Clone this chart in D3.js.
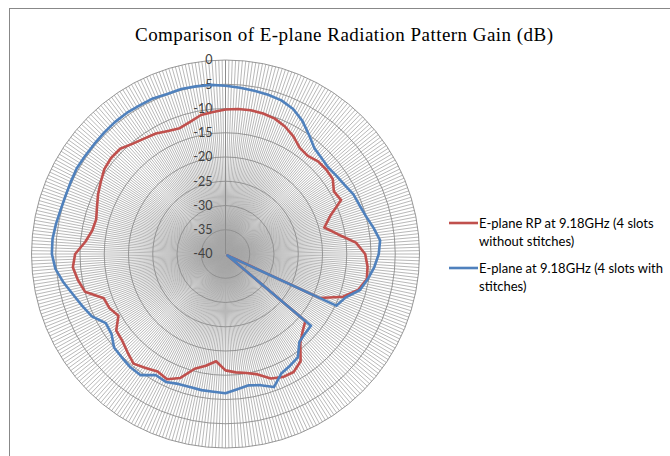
<!DOCTYPE html>
<html><head><meta charset="utf-8">
<script src="https://cdn.jsdelivr.net/npm/d3@7"></script>
<style>body{margin:0;background:#fff;} svg{display:block}</style>
</head><body><svg id="c" width="670" height="456"></svg>
<script>
const title = "Comparison of E-plane Radiation Pattern Gain (dB)";
const angles = [0,5,10,15,20,25,30,35,40,45,50,55,60,65,70,75,80,85,90,95,100,105,110,115,120,125,130,135,140,145,150,155,160,165,170,175,180,185,190,195,200,205,210,215,220,225,230,235,240,245,250,255,260,265,270,275,280,285,290,295,300,305,310,315,320,325,330,335,340,345,350,355];
const redDb = [-10.2,-10.0,-9.9,-10.0,-10.3,-11.0,-12.0,-13.3,-13.6,-13.0,-12.9,-13.0,-14.2,-13.7,-17.0,-18.9,-16.5,-13.0,-11.2,-10.6,-10.4,-11.6,-14.2,-18.5,-39.0,-39.5,-18.5,-17.5,-16.0,-13.0,-11.9,-12.0,-12.7,-14.3,-15.1,-15.5,-16.0,-17.8,-16.6,-15.5,-12.8,-11.5,-12.0,-11.3,-10.5,-11.4,-12.2,-12.5,-14.5,-13.6,-13.3,-10.0,-9.1,-8.4,-9.0,-11.0,-12.1,-12.4,-11.8,-11.0,-10.3,-9.5,-9.2,-9.3,-10.3,-10.9,-11.3,-12.0,-12.4,-11.8,-10.9,-10.6];
const blueDb = [-5.3,-5.6,-5.8,-6.0,-6.3,-7.0,-8.3,-10.0,-11.5,-12.0,-12.3,-12.0,-11.6,-10.9,-10.6,-10.0,-9.0,-8.0,-8.4,-9.2,-10.2,-11.3,-13.7,-14.8,-38.8,-39.5,-17.0,-16.8,-16.3,-14.0,-13.4,-12.8,-10.8,-12.0,-12.5,-12.0,-11.3,-11.5,-11.5,-11.6,-11.5,-10.9,-11.2,-9.5,-9.5,-9.8,-10.0,-11.3,-11.5,-9.6,-8.6,-7.5,-6.1,-4.8,-4.2,-4.2,-4.5,-4.8,-4.9,-4.8,-4.6,-4.7,-4.7,-4.6,-4.5,-4.5,-4.6,-4.6,-4.9,-4.8,-4.9,-5.0];
const radialTicks = [-40,-35,-30,-25,-20,-15,-10,-5,0];
const seriesNames = ["E-plane RP at 9.18GHz (4 slots without stitches)", "E-plane at 9.18GHz (4 slots with stitches)"];
const legendLines = [["E-plane RP at 9.18GHz (4 slots","without stitches)"],["E-plane at 9.18GHz (4 slots with","stitches)"]];
const seriesColors = ["#C0504D","#4F81BD"];
const spokeCount = 360;

const svg = d3.select("#c");
svg.append("rect").attr("x",9.5).attr("y",8.5).attr("width",700).attr("height",500)
  .attr("fill","#fff").attr("stroke","#888").attr("stroke-width",1);

svg.append("text").attr("x",135).attr("y",41).attr("textLength",418).attr("lengthAdjust","spacing")
  .style("font-family","'Liberation Serif','Times New Roman',serif").style("font-size","19px").attr("fill","#000")
  .text(title);

const cx = 225.5, cy = 254, R = 194;
const r = d3.scaleLinear().domain([-40,0]).range([0,R]);
const a = d3.scaleLinear().domain([0,360]).range([0,2*Math.PI]);
const g = svg.append("g").attr("transform",`translate(${cx},${cy})`);

const spokes = d3.range(spokeCount).map(i => i*360/spokeCount);
g.append("g").selectAll("line").data(spokes).join("line")
  .attr("x1",0).attr("y1",0)
  .attr("x2",d=>R*Math.sin(a(d))).attr("y2",d=>-R*Math.cos(a(d)))
  .attr("stroke","#a6a6a6").attr("stroke-width",0.8);

g.append("g").selectAll("circle").data(radialTicks.filter(t=>t>-40)).join("circle")
  .attr("r",d=>r(d)).attr("fill","none").attr("stroke","#8c8c8c").attr("stroke-width",0.9);

g.append("line").attr("x1",0).attr("y1",0).attr("x2",0).attr("y2",-R).attr("stroke","#8c8c8c").attr("stroke-width",1);

g.append("g").selectAll("text").data(radialTicks).join("text")
  .attr("x",-13).attr("y",d=>-r(d)).attr("dy","0.35em").attr("text-anchor","end")
  .style("font-family","Lato,'Liberation Sans',sans-serif").style("font-size","12.5px").attr("fill","#404040")
  .text(d=>d);

const line = d3.lineRadial().angle(d=>a(d[0])).radius(d=>r(Math.max(-40,d[1]))).curve(d3.curveLinearClosed);
[redDb, blueDb].forEach((vals,i)=>{
  g.append("path").datum(angles.map((ang,k)=>[ang, vals[k]]))
    .attr("d",line).attr("fill","none").attr("stroke",seriesColors[i]).attr("stroke-width",2.6)
    .attr("stroke-linejoin","round");
});

const lg = svg.append("g");
legendLines.forEach((lines,i)=>{
  const y0 = 223 + i*45;
  lg.append("line").attr("x1",449).attr("x2",478).attr("y1",y0).attr("y2",y0)
    .attr("stroke",seriesColors[i]).attr("stroke-width",2.6);
  lines.forEach((t,j)=>{
    lg.append("text").attr("x",479).attr("y",y0+j*18).attr("dy","0.35em")
      .style("font-family","Lato,'Liberation Sans',sans-serif").style("font-size","13px").attr("fill","#000")
      .text(t);
  });
});
</script></body></html>
